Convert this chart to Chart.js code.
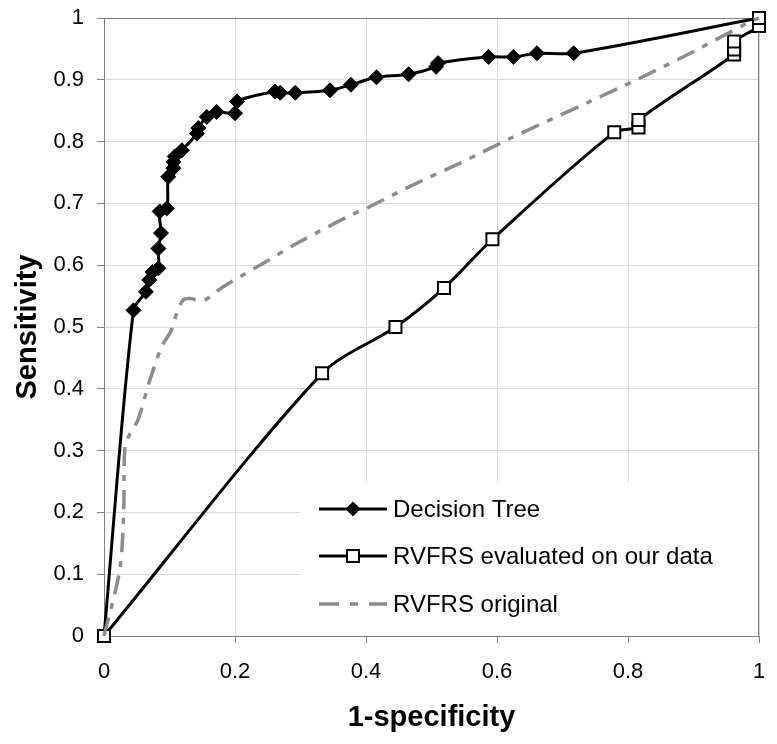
<!DOCTYPE html>
<html>
<head>
<meta charset="utf-8">
<script src="https://cdn.jsdelivr.net/npm/chart.js@4/dist/chart.umd.min.js"></script>
<style>
  body { margin: 0; background: #fff; }
  #roc_chart { display: block; }
</style>
</head>
<body>
<canvas id="roc_chart" width="777" height="744"></canvas>
<script>
// values (x = 1-specificity, y = sensitivity)
var series_labels = ["Decision Tree", "RVFRS evaluated on our data", "RVFRS original"];

var tree_x = [0, 0.045, 0.064, 0.069, 0.074, 0.083, 0.083, 0.087, 0.085, 0.096, 0.098, 0.106, 0.106, 0.108, 0.119,
    0.142, 0.144, 0.157, 0.172, 0.200, 0.203, 0.261, 0.269, 0.292, 0.345, 0.377, 0.416, 0.465, 0.507, 0.510,
    0.587, 0.625, 0.661, 0.717, 1];
var tree_y = [0, 0.527, 0.557, 0.576, 0.589, 0.595, 0.627, 0.652, 0.687, 0.692, 0.743, 0.757, 0.767, 0.776, 0.786,
    0.813, 0.822, 0.840, 0.848, 0.846, 0.865, 0.881, 0.879, 0.879, 0.883, 0.892, 0.904, 0.909, 0.921, 0.927,
    0.937, 0.937, 0.943, 0.943, 1];

var rvfrs_x = [0, 0.333, 0.445, 0.519, 0.593, 0.779, 0.816, 0.816, 0.962, 0.962, 0.962, 1, 1];
var rvfrs_y = [0, 0.425, 0.500, 0.563, 0.642, 0.815, 0.823, 0.835, 0.941, 0.949, 0.962, 0.987, 1];

var orig_x = [0, 0.024, 0.030, 0.032, 0.040, 0.052, 0.070, 0.088, 0.103, 0.111, 0.121, 0.131, 0.152, 0.182,
    0.243, 0.294, 0.371, 0.406, 0.472, 0.549, 0.620, 0.742, 0.813, 0.895, 0.986, 1];
var orig_y = [0, 0.107, 0.199, 0.306, 0.328, 0.350, 0.414, 0.468, 0.495, 0.522, 0.544, 0.546, 0.543, 0.565,
    0.603, 0.635, 0.678, 0.695, 0.730, 0.768, 0.805, 0.865, 0.900, 0.943, 0.994, 1];

var font_family = "'Liberation Sans', Arial, Helvetica, sans-serif";

var to_points = (xs, ys) => xs.map((x, i) => ({ x: x, y: ys[i] }));
var tick_text = (value) => String(Number(value.toFixed(1)));

var draw_marker = (ctx, style, x, y) => {
    ctx.save();
    ctx.beginPath();
    if (style == "rectRot") {
        ctx.moveTo(x, y - 7.5);
        ctx.lineTo(x + 7.5, y);
        ctx.lineTo(x, y + 7.5);
        ctx.lineTo(x - 7.5, y);
        ctx.closePath();
        ctx.fillStyle = "#000";
        ctx.fill();
    } else if (style == "rect") {
        ctx.rect(x - 6, y - 6, 12, 12);
        ctx.fillStyle = "#fff";
        ctx.fill();
        ctx.lineWidth = 2;
        ctx.strokeStyle = "#000";
        ctx.stroke();
    }
    ctx.restore();
};

// plot frame + legend box, drawn like the spreadsheet original
var frame_plugin = {
    id: "frame_plugin",
    beforeDatasetsDraw: (chart) => {
        var ctx = chart.ctx;
        var area = chart.chartArea;
        ctx.save();
        ctx.fillStyle = "#fff";
        ctx.fillRect(300, 483, area.right - 300, area.bottom - 483);
        ctx.strokeStyle = "#808080";
        ctx.lineWidth = 1;
        ctx.beginPath();
        ctx.moveTo(Math.round(area.left) + 0.5, Math.round(area.top) + 0.5);
        ctx.lineTo(Math.round(area.right) - 0.5, Math.round(area.top) + 0.5);
        ctx.lineTo(Math.round(area.right) - 0.5, Math.round(area.bottom));
        ctx.stroke();
        ctx.restore();
    },
    afterDraw: (chart) => {
        var ctx = chart.ctx;
        var rows = [509, 556, 604];
        chart.data.datasets.forEach((ds, i) => {
            var y = rows[i];
            ctx.save();
            ctx.strokeStyle = ds.borderColor;
            ctx.lineWidth = ds.borderWidth;
            ctx.setLineDash(ds.legendDash || []);
            ctx.beginPath();
            ctx.moveTo(319, y);
            ctx.lineTo(387, y);
            ctx.stroke();
            ctx.restore();
            if (ds.legendMarker) {
                draw_marker(ctx, ds.legendMarker, 353, y);
            }
            ctx.save();
            ctx.fillStyle = "#000";
            ctx.font = "24px " + font_family;
            ctx.textBaseline = "middle";
            ctx.textAlign = "left";
            ctx.fillText(ds.label, 393, y + 1);
            ctx.restore();
        });
    }
};

var edge_radius = (size) => (ctx) => {
    var raw = ctx.raw;
    if (raw && (raw.x === 0 || raw.x === 1)) return 0;
    return size;
};

var data = {
    datasets: [{
        label: series_labels[0],
        data: to_points(tree_x, tree_y),
        borderColor: "#000",
        borderWidth: 3,
        backgroundColor: "#000",
        pointStyle: "rectRot",
        pointRadius: edge_radius(7.5),
        pointHoverRadius: 7.5,
        pointBorderWidth: 1,
        pointBorderColor: "#000",
        tension: 0.3,
        legendMarker: "rectRot",
        order: 3
    }, {
        label: series_labels[1],
        data: to_points(rvfrs_x, rvfrs_y),
        borderColor: "#000",
        borderWidth: 3,
        pointStyle: "rect",
        pointRadius: 8.5,
        pointBackgroundColor: "#fff",
        pointBorderColor: "#000",
        pointBorderWidth: 2,
        tension: 0.3,
        legendMarker: "rect",
        order: 2
    }, {
        label: series_labels[2],
        data: to_points(orig_x, orig_y),
        borderColor: "#8c8c8c",
        borderWidth: 3.5,
        borderDash: [19, 9, 6, 9],
        legendDash: [20, 11, 8, 11],
        pointRadius: 0,
        tension: 0.3,
        order: 1
    }]
};

var options = {
    responsive: false,
    animation: false,
    clip: false,
    layout: { padding: { top: 18, right: 18, left: 0, bottom: 0 } },
    plugins: {
        legend: { display: false },
        tooltip: { enabled: false }
    },
    scales: {
        x: {
            type: "linear",
            min: 0,
            max: 1,
            afterFit: (scale) => {
                scale.height = 108;
                scale.paddingLeft = 0;
                scale.paddingRight = 0;
            },
            ticks: {
                stepSize: 0.2,
                color: "#000",
                padding: 16,
                maxRotation: 0,
                callback: tick_text,
                font: { family: font_family, size: 22 }
            },
            grid: { color: "#dadada", tickColor: "#808080", tickLength: 7 },
            border: { color: "#808080", width: 1 },
            title: {
                display: true,
                text: "1-specificity",
                color: "#000",
                padding: { top: 0, bottom: 9 },
                font: { family: font_family, size: 29, weight: "bold" }
            }
        },
        y: {
            type: "linear",
            min: 0,
            max: 1,
            afterFit: (scale) => {
                scale.width = 104;
                scale.paddingTop = 0;
                scale.paddingBottom = 0;
            },
            ticks: {
                stepSize: 0.1,
                color: "#000",
                padding: 13,
                callback: tick_text,
                font: { family: font_family, size: 22 }
            },
            grid: { color: "#dadada", tickColor: "#808080", tickLength: 7 },
            border: { color: "#808080", width: 1 },
            title: {
                display: true,
                text: "Sensitivity",
                color: "#000",
                padding: { top: 11, bottom: 0 },
                font: { family: font_family, size: 29, weight: "bold" }
            }
        }
    }
};

var create_chart = (canva, data = {}, options = {}) => {
    var config = {
        type: "scatter",
        data: data,
        options: options,
        plugins: [frame_plugin]
    };
    config.data.datasets.forEach((ds) => { ds.showLine = true; });
    return new Chart(canva, config);
};

create_chart(document.getElementById("roc_chart"), data, options);
</script>
</body>
</html>
